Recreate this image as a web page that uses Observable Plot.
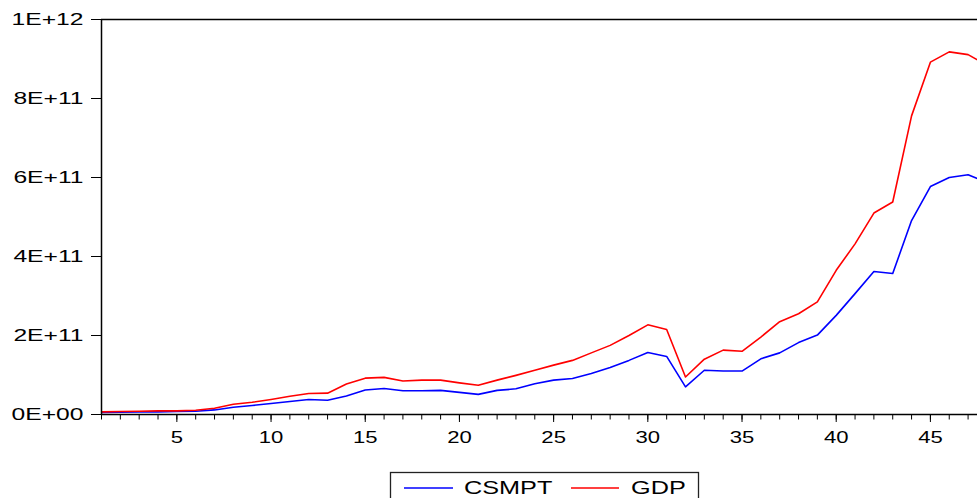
<!DOCTYPE html>
<html>
<head>
<meta charset="utf-8">
<script src="https://cdn.jsdelivr.net/npm/d3@7"></script>
<script src="https://cdn.jsdelivr.net/npm/@observablehq/plot@0.6"></script>
<style>
  html, body { margin: 0; padding: 0; background: #fff; overflow: hidden; }
  #wrap { position: relative; width: 977px; height: 498px; }
  #legend { position: absolute; left: 0; top: 462px; }
</style>
</head>
<body>
<div id="wrap"><div id="chart"></div><div id="legend"></div></div>
<script>
// observation index
const obs = [1,2,3,4,5,6,7,8,9,10,11,12,13,14,15,16,17,18,19,20,21,22,23,24,
             25,26,27,28,29,30,31,32,33,34,35,36,37,38,39,40,41,42,43,44,45,46,47,48];
// values in units of 1e9
const csmpt = [5,5.8,6.6,6.6,7.6,8.3,11.6,18.5,22.8,27.8,32.9,37.9,36.2,47,62,66,60,60,61,56,51,61,65,78,
               87,91,104,119,137,157,147,70,112,110,110,141,156,182,201,251,306,362,357,491,577,600,607,587];
const gdp = [6.6,7.6,8.3,9.1,9.1,10.9,15.9,26,31,38,46,53,54,77,92,94,85,87,87,80,74,87,99,112,
             125,137,156,175,200,227,215,95,140,163,160,196,235,255,285,365,432,510,538,756,892,918,911,884];
const seriesNames = ["CSMPT", "GDP"];
const seriesColors = ["#0000ff", "#ff0000"];
const xDomain = [1, 47.5];
const yDomain = [0, 1e12];
const xLabelTicks = [5,10,15,20,25,30,35,40,45];
const xMinorTicks = obs.filter(d => d <= 47);
const yTicks = [0, 2e11, 4e11, 6e11, 8e11, 1e12];
const yTickLabels = ["0E+00", "2E+11", "4E+11", "6E+11", "8E+11", "1E+12"];

const rows = [];
obs.forEach((o, i) => {
  rows.push({obs: o, value: csmpt[i] * 1e9, series: seriesNames[0]});
});
obs.forEach((o, i) => {
  rows.push({obs: o, value: gdp[i] * 1e9, series: seriesNames[1]});
});

const FONT = "'Liberation Sans', Arial, sans-serif";

const svg = Plot.plot({
  width: 977,
  height: 462,
  marginLeft: 101,
  marginRight: 0,
  marginTop: 19,
  marginBottom: 48,
  style: {fontFamily: FONT, fontSize: "17px", color: "#000", background: "#fff", overflow: "hidden"},
  x: {domain: xDomain, axis: null, label: null},
  y: {domain: yDomain, axis: null, label: null},
  color: {domain: seriesNames, range: seriesColors},
  marks: [
    Plot.axisX({ticks: xMinorTicks, tickSize: 5.5, tickFormat: () => "", label: null, stroke: "#000", strokeWidth: 1}),
    Plot.axisX({ticks: xLabelTicks, tickSize: 8, tickPadding: 8, tickFormat: d => String(d), label: null, stroke: "#000", strokeWidth: 1, fill: "#000"}),
    Plot.axisY({ticks: yTicks, tickSize: 10, tickPadding: 8, tickFormat: d => yTickLabels[yTicks.indexOf(d)], label: null, stroke: "#000", strokeWidth: 1, fill: "#000"}),
    Plot.line(rows, {x: "obs", y: "value", stroke: "series", z: "series", strokeWidth: 1.6, clip: true}),
    Plot.ruleY(yDomain, {stroke: "#000", strokeWidth: 1.3}),
    Plot.ruleX([xDomain[0]], {stroke: "#000", strokeWidth: 1.5})
  ]
});

// horizontal stretch of tick labels to match the reference's wide lettering
svg.querySelectorAll('g[aria-label="y-axis tick label"] text').forEach(t => {
  t.setAttribute("transform", (t.getAttribute("transform") || "") + " scale(1.45,1)");
});
svg.querySelectorAll('g[aria-label="x-axis tick label"] text').forEach(t => {
  t.setAttribute("transform", (t.getAttribute("transform") || "") + " scale(1.3,1)");
});
document.getElementById("chart").appendChild(svg);

// legend below the chart
const lg = d3.select("#legend").append("svg")
  .attr("width", 977).attr("height", 36)
  .style("display", "block")
  .style("font-family", FONT);
lg.append("rect").attr("x", 390.5).attr("y", 10.5).attr("width", 308).attr("height", 40)
  .attr("fill", "none").attr("stroke", "#222").attr("stroke-width", 1.3);
const items = [
  {x1: 404, x2: 453, tx: 464},
  {x1: 571, x2: 619, tx: 631}
];
items.forEach((it, i) => {
  lg.append("line").attr("x1", it.x1).attr("x2", it.x2).attr("y1", 26).attr("y2", 26)
    .attr("stroke", seriesColors[i]).attr("stroke-width", 1.5);
  lg.append("text").attr("transform", `translate(${it.tx},31.5) scale(1.33,1)`)
    .attr("font-size", 19).attr("fill", "#000").text(seriesNames[i]);
});
</script>
</body>
</html>
